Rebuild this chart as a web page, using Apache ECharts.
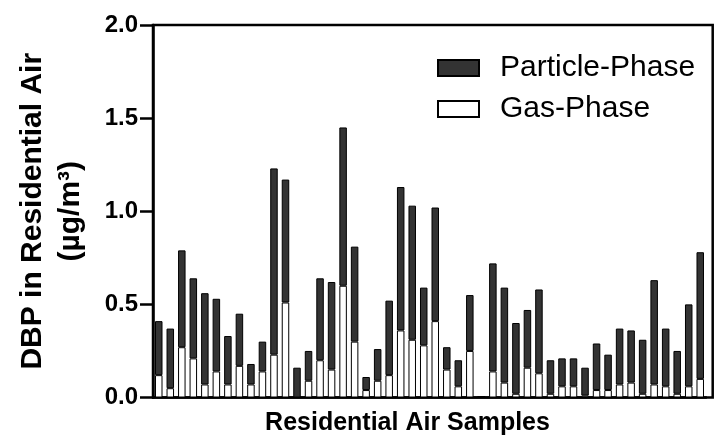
<!DOCTYPE html>
<html>
<head>
<meta charset="utf-8">
<script src="https://cdn.jsdelivr.net/npm/echarts@6/dist/echarts.min.js"></script>
<style>html,body{margin:0;padding:0;background:#fff}#c{width:715px;height:443px}</style>
</head>
<body>
<div id="c"></div>
<script>
// Sample index (48 residential air samples)
var samples = [];
for (var k = 1; k <= 48; k++) samples.push('S' + k);
// Gas-phase DBP (µg/m³)
var gasPhase = [0.12,0.05,0.27,0.21,0.07,0.14,0.07,0.17,0.07,0.14,0.23,0.51,0.00,0.09,0.20,0.15,
                0.60,0.30,0.04,0.09,0.12,0.36,0.31,0.28,0.41,0.15,0.06,0.25,0.005,0.14,0.08,0.02,
                0.16,0.13,0.02,0.06,0.06,0.01,0.04,0.04,0.07,0.08,0.02,0.07,0.06,0.02,0.06,0.10];
// Particle-phase DBP (µg/m³)
var particlePhase = [0.29,0.32,0.52,0.43,0.49,0.39,0.26,0.28,0.11,0.16,1.00,0.66,0.16,0.16,0.44,0.47,
                     0.85,0.51,0.07,0.17,0.40,0.77,0.72,0.31,0.61,0.12,0.14,0.30,0.00,0.58,0.51,0.38,
                     0.31,0.45,0.18,0.15,0.15,0.15,0.25,0.19,0.30,0.28,0.29,0.56,0.31,0.23,0.44,0.68];
var yTicks = [0, 0.5, 1.0, 1.5, 2.0];

var chart = echarts.init(document.getElementById('c'));
var font = 'Liberation Sans, Arial, Helvetica, sans-serif';
chart.setOption({
  animation: false,
  grid: [
    { left: 153, right: 9, top: 25, bottom: 45.5 },
    { left: 153, right: 2.3, top: 25, bottom: 45.5, show: true, borderColor: '#000', borderWidth: 2.5, backgroundColor: 'transparent' }
  ],
  legend: {
    orient: 'vertical', left: 437, top: 53, padding: 0, itemWidth: 41, itemHeight: 16, itemGap: 11, icon: 'rect',
    data: ['Particle-Phase', 'Gas-Phase'],
    textStyle: { fontFamily: font, fontSize: 30, color: '#000', padding: [0, 0, 0, 16] }
  },
  xAxis: [{
    type: 'category', data: samples, gridIndex: 0,
    axisLine: { show: true, lineStyle: { color: '#000', width: 2.5 } },
    axisTick: { show: false }, axisLabel: { show: false }, splitLine: { show: false },
    name: '{t|Residential Air Samples}', nameLocation: 'middle', nameGap: 26,
    nameTextStyle: { verticalAlign: 'middle', rich: { t: { fontFamily: font, fontSize: 25, fontWeight: 'bold', color: '#000', padding: [0, 44, 0, 0] } } }
  }, {
    type: 'value', gridIndex: 1, show: false, min: 0, max: 1
  }],
  yAxis: [{
    type: 'value', gridIndex: 0, min: yTicks[0], max: yTicks[yTicks.length - 1], interval: 0.5,
    axisLine: { show: true, lineStyle: { color: '#000', width: 2.5 } },
    axisTick: { show: true, length: 13, lineStyle: { color: '#000', width: 2.5 } },
    splitLine: { show: false },
    axisLabel: { margin: 15, fontFamily: font, fontSize: 24, fontWeight: 'bold', color: '#000', formatter: function (v) { return v.toFixed(1); } },
    name: 'DBP in Residential Air\n(µg/m³)', nameLocation: 'middle', nameGap: 101,
    nameTextStyle: { fontFamily: font, fontSize: 30, fontWeight: 'bold', color: '#000', lineHeight: 38, align: 'center', verticalAlign: 'middle' }
  }, {
    type: 'value', gridIndex: 1, show: false, min: 0, max: 1
  }],
  series: [
    {
      name: 'Gas-Phase', type: 'bar', stack: 'dbp', barWidth: 7.5, xAxisIndex: 0, yAxisIndex: 0,
      itemStyle: { color: '#fff', borderColor: '#000', borderWidth: 1 },
      data: gasPhase
    },
    {
      name: 'Particle-Phase', type: 'bar', stack: 'dbp', barWidth: 7.5, xAxisIndex: 0, yAxisIndex: 0,
      itemStyle: { color: '#333', borderColor: '#000', borderWidth: 1 },
      data: particlePhase
    }
  ]
});
</script>
</body>
</html>
